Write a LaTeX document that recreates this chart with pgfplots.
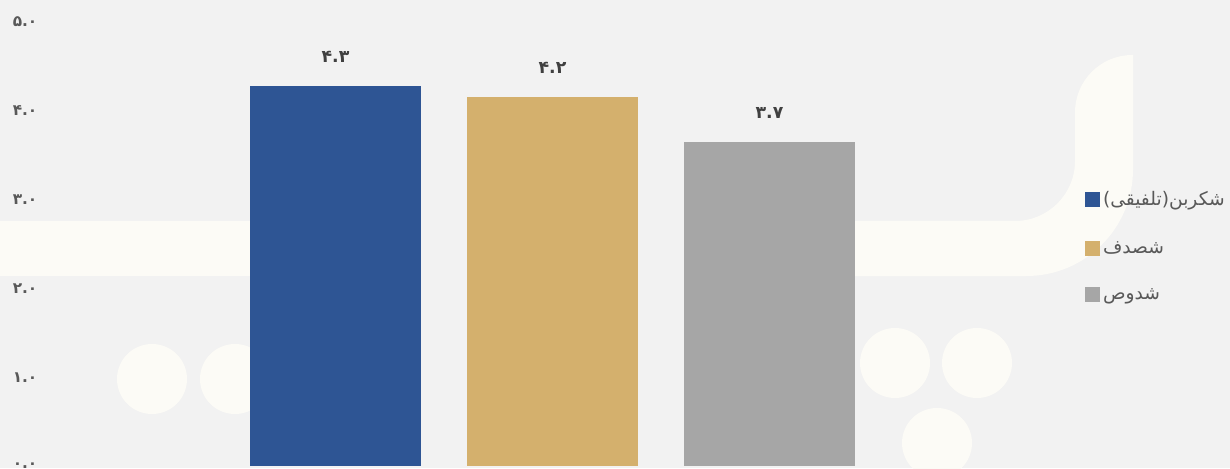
\documentclass[border=0pt]{standalone}
\usepackage{fontspec}
\usepackage{pgfplots}
\pgfplotsset{compat=1.18}
\TeXXeTstate=1
\newfontfamily\arabicfont[Script=Arabic]{DejaVu Sans}
\definecolor{bg}{HTML}{F2F2F2}
\definecolor{wm}{HTML}{FCFBF6}
\definecolor{barblue}{HTML}{2E5594}
\definecolor{bartan}{HTML}{D4B06D}
\definecolor{bargray}{HTML}{A6A6A6}
\definecolor{ticktext}{HTML}{595959}
\definecolor{valtext}{HTML}{404040}

\begin{document}
\begin{tikzpicture}
\useasboundingbox (0,0) rectangle (922.5pt,351pt);
\fill[bg] (0,0) rectangle (922.5pt,351pt);
% faint watermark, pixel units from the top left
\begin{scope}[x=0.75pt,y=-0.75pt,yshift=351pt]
  \fill[wm] (0,221) rectangle (260,276);
  \fill[wm] (850,276) -- (850,221) [rounded corners=45pt] -- (1075,221)
    [rounded corners=43pt] -- (1075,55) [sharp corners] -- (1133,55)
    [rounded corners=80pt] -- (1133,276) [sharp corners] -- cycle;
  \foreach \cx/\cy in {152/379,235/379,895/363,977/363,937/443}
    \fill[wm] (\cx,\cy) circle[radius=35];
\end{scope}

\begin{axis}[
  at={(251.625pt,1.5pt)}, anchor=origin,
  x=162.75pt, y=66.6pt,
  xmin=-1.3525, xmax=3.339, ymin=0, ymax=5,
  axis line style={draw=none},
  major tick length=0pt,
  xtick=\empty,
  ytick={0,1,2,3,4,5},
  yticklabels={۰.۰,۱.۰,۲.۰,۳.۰,۴.۰,۵.۰},
  yticklabel style={font=\arabicfont\bfseries\fontsize{11.5}{13}\selectfont, text=ticktext, anchor=east},
  nodes near coords style={font=\arabicfont\bfseries\fontsize{13}{15}\selectfont, text=valtext, anchor=center, yshift=21.75pt},
  legend style={at={(axis description cs:1.0246,0.4944)}, anchor=west,
    draw=none, fill=none, inner sep=0pt, row sep=21pt,
    font=\arabicfont\fontsize{14}{16}\selectfont, text=ticktext},
  legend cell align=left,
  legend image code/.code={\fill[#1] (0pt,-5.6pt) rectangle (11.25pt,5.6pt);},
]
\addplot[ybar, bar width=128.25pt, bar shift=0pt, fill=barblue, draw=none,
  nodes near coords={۴.۳}] coordinates {(0,4.28)};
\addplot[ybar, bar width=128.25pt, bar shift=0pt, fill=bartan, draw=none,
  nodes near coords={۴.۲}] coordinates {(1,4.16)};
\addplot[ybar, bar width=128.25pt, bar shift=0pt, fill=bargray, draw=none,
  nodes near coords={۳.۷}] coordinates {(2,3.65)};
\legend{\beginR شکربن(تلفیقی)\endR, \beginR شصدف\endR, \beginR شدوص\endR}
\end{axis}
\end{tikzpicture}
\end{document}
